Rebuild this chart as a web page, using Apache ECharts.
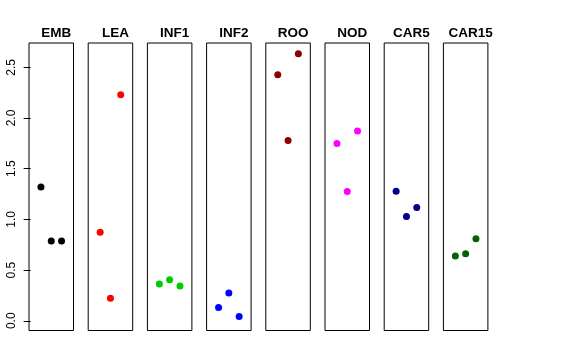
<!DOCTYPE html>
<html>
<head>
<meta charset="utf-8">
<script src="https://cdn.jsdelivr.net/npm/echarts@6/dist/echarts.min.js"></script>
<style>html,body{margin:0;padding:0;background:#fff}#c{width:576px;height:360px}</style>
</head>
<body>
<div id="c"></div>
<script>
const categories = ['EMB', 'LEA', 'INF1', 'INF2', 'ROO', 'NOD', 'CAR5', 'CAR15'];
const EMB = [1.32, 0.787, 0.787];
const LEA = [0.873, 0.223, 2.23];
const INF1 = [0.362, 0.405, 0.342];
const INF2 = [0.131, 0.273, 0.042];
const ROO = [2.427, 1.779, 2.634];
const NOD = [1.749, 1.275, 1.871];
const CAR5 = [1.278, 1.028, 1.117];
const CAR15 = [0.638, 0.662, 0.810];
const seriesValues = [EMB, LEA, INF1, INF2, ROO, NOD, CAR5, CAR15];
const colors = ['#000000', '#FF0000', '#00CD00', '#0000FF', '#8B0000', '#FF00FF', '#00008B', '#006400'];
const yTicks = [0, 0.5, 1.0, 1.5, 2.0, 2.5];

const panelLeft0 = 29, panelStep = 59.2, panelW = 44.5, panelTop = 43, panelH = 287.5;
const grids = [], xAxes = [], yAxes = [], series = [], titles = [];
categories.forEach((name, i) => {
  const left = panelLeft0 + i * panelStep;
  grids.push({left: left, top: panelTop, width: panelW, height: panelH, show: true,
    borderColor: '#000', borderWidth: 1, backgroundColor: 'transparent', containLabel: false});
  xAxes.push({type: 'value', gridIndex: i, min: -0.16, max: 4.16, show: false});
  yAxes.push({type: 'value', gridIndex: i, min: -0.096, max: 2.74, show: i === 0,
    axisLine: {show: false},
    splitLine: {show: false},
    axisTick: {show: true, length: 7, inside: false, lineStyle: {color: '#000', width: 1}, customValues: yTicks},
    axisLabel: {show: true, rotate: 90, margin: 11, color: '#000', fontSize: 12,
      fontFamily: 'Liberation Sans, Arial, sans-serif', customValues: yTicks,
      formatter: v => Number(v).toFixed(1)}
  });
  series.push({type: 'scatter', xAxisIndex: i, yAxisIndex: i, symbolSize: 7,
    itemStyle: {color: colors[i], opacity: 1}, silent: true,
    data: seriesValues[i].map((v, k) => [k + 1, v])});
  titles.push({text: name, left: left + panelW / 2, top: 21, textAlign: 'center',
    textStyle: {fontSize: 13.5, fontWeight: 'bold', color: '#000', fontFamily: 'Liberation Sans, Arial, sans-serif'}});
});

const chart = echarts.init(document.getElementById('c'), null, {renderer: 'canvas'});
chart.setOption({
  animation: false,
  backgroundColor: '#fff',
  title: titles,
  grid: grids,
  xAxis: xAxes,
  yAxis: yAxes,
  series: series
});
</script>
</body>
</html>
